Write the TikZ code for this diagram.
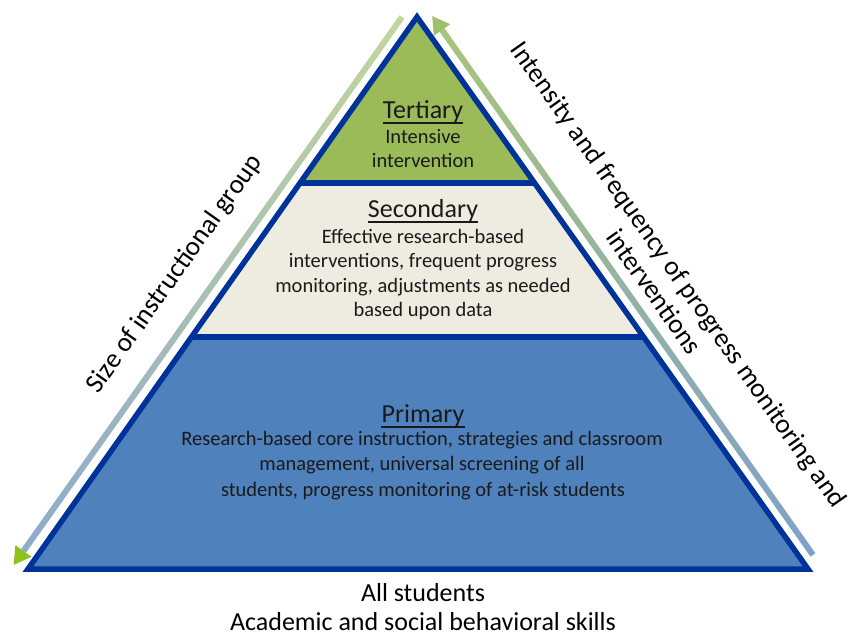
\documentclass[tikz,border=0pt]{standalone}
\usepackage{fontspec}
\setmainfont{Carlito}
\usetikzlibrary{calc}
\definecolor{edgeblue}{HTML}{003399}
\definecolor{tergreen}{HTML}{9BBB59}
\definecolor{secbeige}{HTML}{EEECE1}
\definecolor{primblue}{HTML}{4F81BD}
\definecolor{txt}{HTML}{1A1A1A}
\definecolor{lgtop}{HTML}{C3D69B}
\definecolor{lgmid}{HTML}{E4E8E0}
\definecolor{lgbot}{HTML}{8EAACC}
\definecolor{rgtop}{HTML}{A9C47C}
\definecolor{rgmid}{HTML}{E2E7DE}
\definecolor{rgbot}{HTML}{7EA1CB}
\definecolor{headA}{HTML}{8DC21F}
\definecolor{headB}{HTML}{9DC06A}
\begin{document}
\begin{tikzpicture}[x=1pt,y=-1pt,
  edge/.style={draw=edgeblue, line width=5.5pt, line join=miter},
  tiertitle/.style={anchor=base, inner sep=0pt, font=\fontsize{26}{31}\selectfont, text=txt},
  tierbody/.style={anchor=base, inner sep=0pt, font=\fontsize{20.5}{24.5}\selectfont, text=txt},
  bigtext/.style={anchor=base, inner sep=0pt, font=\fontsize{26}{31}\selectfont, text=black},
  sidetext/.style={anchor=center, inner sep=0pt, font=\fontsize{27}{30}\selectfont, text=black},
  uline/.style={draw=txt, line width=1.5pt}]
\useasboundingbox (0,0) rectangle (852,634);
% pyramid corners
\coordinate (A) at (417,17);
\coordinate (BL) at (28,569);
\coordinate (BR) at (808,569);
\coordinate (L1) at ($(A)!0.3007!(BL)$);
\coordinate (R1) at ($(A)!0.3007!(BR)$);
\coordinate (L2) at ($(A)!0.5797!(BL)$);
\coordinate (R2) at ($(A)!0.5797!(BR)$);
% fills
\fill[primblue] (BL) -- (BR) -- (R2) -- (L2) -- cycle;
\fill[secbeige] (L2) -- (R2) -- (R1) -- (L1) -- cycle;
\fill[tergreen] (L1) -- (R1) -- (A) -- cycle;
\draw[edge] (A) -- (BL) -- (BR) -- cycle;
\draw[edge] (L1) -- (R1);
\draw[edge] (L2) -- (R2);
% left arrow (pointing down)
\coordinate (LA) at (402,17);
\coordinate (LB) at (23.5,551);
\shade[top color=lgtop, middle color=lgmid, bottom color=lgbot]
  ($(LA)!3pt!90:(LB)$) -- ($(LB)!3pt!-90:(LA)$) -- ($(LB)!3pt!90:(LA)$) -- ($(LA)!3pt!-90:(LB)$) -- cycle;
\fill[headA] ($(LB)!-17pt!(LA)$) -- ($(LB)!10pt!90:(LA)$) -- ($(LB)!10pt!-90:(LA)$) -- cycle;
% right arrow (pointing up)
\coordinate (RA) at (813,555);
\coordinate (RB) at (442,30);
\shade[top color=rgtop, middle color=rgmid, bottom color=rgbot]
  ($(RA)!3pt!90:(RB)$) -- ($(RB)!3pt!-90:(RA)$) -- ($(RB)!3pt!90:(RA)$) -- ($(RA)!3pt!-90:(RB)$) -- cycle;
\fill[headB] ($(RB)!-17pt!(RA)$) -- ($(RB)!10pt!90:(RA)$) -- ($(RB)!10pt!-90:(RA)$) -- cycle;
% tertiary
\node[tiertitle] (tt) at (423,118) {Tertiary};
\draw[uline] ($(tt.base west)+(0,5)$) -- ($(tt.base east)+(0,5)$);
\node[tierbody] (tb1) at (423,143) {Intensive};
\node[tierbody] (tb2) at (423,167.5) {intervention};
% secondary
\node[tiertitle] (st) at (423,217) {Secondary};
\draw[uline] ($(st.base west)+(0,5)$) -- ($(st.base east)+(0,5)$);
\node[tierbody] (sb1) at (423,243) {Effective research-based};
\node[tierbody] (sb2) at (423,267.5) {interventions, frequent progress};
\node[tierbody] (sb3) at (423,292) {monitoring, adjustments as needed};
\node[tierbody] (sb4) at (423,316.5) {based upon data};
% primary
\node[tiertitle] (pt) at (423,422) {Primary};
\draw[uline] ($(pt.base west)+(0,5)$) -- ($(pt.base east)+(0,5)$);
\node[tierbody] (pb1) at (422,445) {Research-based core instruction, strategies and classroom};
\node[tierbody] (pb2) at (422,470.5) {management, universal screening of all};
\node[tierbody] (pb3) at (423,496) {students, progress monitoring of at-risk students};
% bottom
\node[bigtext] (all) at (423,601) {All students};
\node[bigtext] (acad) at (423,630) {Academic and social behavioral skills};
% side labels
\node[sidetext, rotate=54.8] (lsize) at (175,274) {Size of instructional group};
\node[sidetext, align=center, rotate=-54.8] (rint) at (667,283)
  {Intensity and frequency of progress monitoring and\\interventions};
\end{tikzpicture}
\end{document}
